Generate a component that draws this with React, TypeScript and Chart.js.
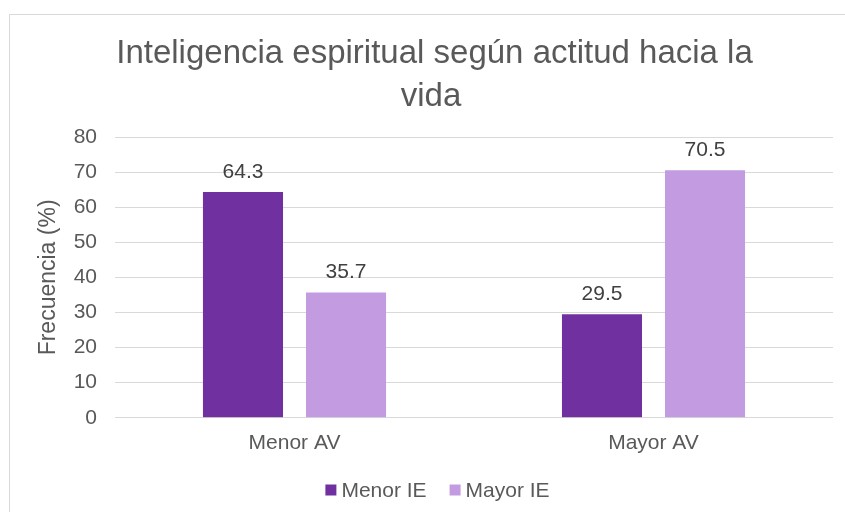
import React, { useEffect, useRef } from "react";
import { Chart, registerables } from "chart.js";

Chart.register(...registerables);

const categories = ["Menor AV", "Mayor AV"];
const seriesNames = ["Menor IE", "Mayor IE"];
const menorIE = [64.3, 29.5];
const mayorIE = [35.7, 70.5];
const colors = ["#7030A0", "#C39BE0"];
const titleLines = ["Inteligencia espiritual según actitud hacia la", "vida"];
const yTitle = "Frecuencia (%)";

const FONT = "'Liberation Sans', Arial, Helvetica, sans-serif";

const dataLabelPlugin = {
  id: "dataLabels",
  afterDatasetsDraw(chart: any) {
    const ctx = chart.ctx;
    ctx.save();
    ctx.font = `21px ${FONT}`;
    ctx.fillStyle = "#404040";
    ctx.textAlign = "center";
    ctx.textBaseline = "middle";
    chart.data.datasets.forEach((ds: any, i: number) => {
      const meta = chart.getDatasetMeta(i);
      meta.data.forEach((el: any, j: number) => {
        ctx.fillText(String(ds.data[j]), el.x, el.y - 20);
      });
    });
    ctx.restore();
  },
};

const titlePlugin = {
  id: "customTitle",
  afterDraw(chart: any) {
    const ctx = chart.ctx;
    ctx.save();
    ctx.font = `33px ${FONT}`;
    ctx.fillStyle = "#595959";
    ctx.textAlign = "center";
    ctx.textBaseline = "alphabetic";
    ctx.fillText(titleLines[0], 434.5, 63);
    ctx.fillText(titleLines[1], 431, 106);
    ctx.restore();
  },
};

const legendPlugin = {
  id: "customLegend",
  afterDraw(chart: any) {
    const ctx = chart.ctx;
    ctx.save();
    ctx.font = `21px ${FONT}`;
    const box = 11;
    const gapBoxText = 5;
    const gapItems = 23;
    const widths = seriesNames.map((n) => ctx.measureText(n).width);
    const total = widths.reduce((a, w) => a + box + gapBoxText + w, 0) + gapItems * (seriesNames.length - 1);
    let x = 437.5 - total / 2;
    const cy = 490;
    ctx.textBaseline = "middle";
    ctx.textAlign = "left";
    seriesNames.forEach((n, i) => {
      ctx.fillStyle = colors[i];
      ctx.fillRect(x, cy - box / 2, box, box);
      x += box + gapBoxText;
      ctx.fillStyle = "#595959";
      ctx.fillText(n, x, cy + 1);
      x += widths[i] + gapItems;
    });
    ctx.restore();
  },
};

export default function App() {
  const ref = useRef<HTMLCanvasElement>(null);
  useEffect(() => {
    if (!ref.current) return;
    const chart = new Chart(ref.current, {
      type: "bar",
      data: {
        labels: categories,
        datasets: [
          { label: seriesNames[0], data: menorIE, backgroundColor: colors[0] },
          { label: seriesNames[1], data: mayorIE, backgroundColor: colors[1] },
        ],
      },
      options: {
        responsive: false,
        animation: false,
        devicePixelRatio: 1,
        layout: { padding: { left: 10, right: 12, top: 137, bottom: 43 } },
        datasets: { bar: { categoryPercentage: 0.574, barPercentage: 0.777 } },
        scales: {
          x: {
            grid: { display: false, drawTicks: false },
            border: { display: false },
            ticks: { color: "#595959", font: { size: 21, family: FONT }, padding: 13 },
          },
          y: {
            min: 0,
            max: 80,
            grid: { color: "#D9D9D9", lineWidth: 1, drawTicks: false },
            border: { display: false },
            ticks: { stepSize: 10, color: "#595959", font: { size: 21, family: FONT }, padding: 18 },
            title: {
              display: true,
              text: yTitle,
              color: "#595959",
              font: { size: 23, family: FONT },
              padding: { top: 25, bottom: 0 },
            },
            afterFit(scale: any) {
              scale.width = 105;
            },
          },
        },
        plugins: {
          title: { display: false },
          legend: { display: false },
          tooltip: { enabled: false },
        },
      },
      plugins: [dataLabelPlugin, titlePlugin, legendPlugin],
    });
    return () => chart.destroy();
  }, []);

  return (
    <div style={{ position: "absolute", left: 0, top: 0, width: 845, height: 512, overflow: "hidden", background: "#fff" }}>
      <div
        style={{
          position: "absolute",
          left: 9,
          top: 14,
          width: 900,
          height: 600,
          borderLeft: "1px solid #D9D9D9",
          borderTop: "1px solid #D9D9D9",
        }}
      />
      <canvas ref={ref} width={845} height={512} style={{ position: "absolute", left: 0, top: 0 }} />
    </div>
  );
}
